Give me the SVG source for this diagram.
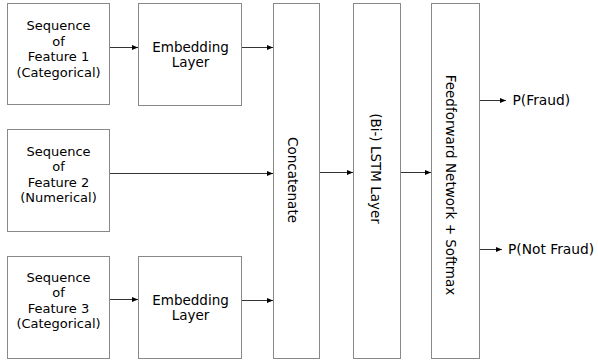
<svg xmlns="http://www.w3.org/2000/svg" width="598" height="360" viewBox="0 0 598 360">
<defs>
<marker id="arr" viewBox="0 0 6 5" refX="6" refY="2.5" markerWidth="6" markerHeight="5" markerUnits="userSpaceOnUse" orient="auto">
<path d="M0,0 L6,2.5 L0,5 z" fill="#000"/>
</marker>
<style>
.box{fill:#fff;stroke:#888;stroke-width:1}
.t{font-family:"DejaVu Sans",Verdana,sans-serif;font-size:13px;fill:#000;text-anchor:middle}
.e{font-family:"DejaVu Sans",Verdana,sans-serif;font-size:13.5px;fill:#000;text-anchor:middle}
.r{font-family:"DejaVu Sans",Verdana,sans-serif;font-size:13.5px;fill:#000;text-anchor:middle}
.tl{font-family:"DejaVu Sans",Verdana,sans-serif;font-size:13.8px;fill:#000}
.c{stroke:#333;stroke-width:1;fill:none;marker-end:url(#arr)}
</style>
</defs>
<rect width="598" height="360" fill="#fff"/>
<g id="seq1">
<rect class="box" x="7.5" y="3.5" width="102" height="101"/>
<text class="t" x="58.5" y="30">Sequence</text>
<text class="t" x="58.5" y="45.7">of</text>
<text class="t" x="58.5" y="61.4">Feature 1</text>
<text class="t" x="58.5" y="77">(Categorical)</text>
</g>
<g id="emb1">
<rect class="box" x="138.5" y="3.5" width="103" height="102"/>
<text class="e" x="190.5" y="51.7">Embedding</text>
<text class="e" x="190.5" y="67.3">Layer</text>
</g>
<g id="seq2">
<rect class="box" x="7.5" y="129.5" width="102" height="102"/>
<text class="t" x="58.5" y="155.5">Sequence</text>
<text class="t" x="58.5" y="171.1">of</text>
<text class="t" x="58.5" y="186.7">Feature 2</text>
<text class="t" x="58.5" y="202.3">(Numerical)</text>
</g>
<g id="seq3">
<rect class="box" x="7.5" y="256.5" width="102" height="102"/>
<text class="t" x="58.5" y="281.5">Sequence</text>
<text class="t" x="58.5" y="297.1">of</text>
<text class="t" x="58.5" y="312.7">Feature 3</text>
<text class="t" x="58.5" y="328.3">(Categorical)</text>
</g>
<g id="emb3">
<rect class="box" x="138.5" y="256.5" width="103" height="102"/>
<text class="e" x="190.5" y="304.5">Embedding</text>
<text class="e" x="190.5" y="320">Layer</text>
</g>
<g id="concat">
<rect class="box" x="273.5" y="3.5" width="46" height="355"/>
<text class="r" transform="translate(287.5,180) rotate(90)">Concatenate</text>
</g>
<g id="lstm">
<rect class="box" x="353.5" y="3.5" width="47" height="355"/>
<text class="r" transform="translate(371,168.5) rotate(90)">(Bi-) LSTM Layer</text>
</g>
<g id="ffn">
<rect class="box" x="431.5" y="3.5" width="48" height="355"/>
<text class="r" transform="translate(446,185) rotate(90)">Feedforward Network + Softmax</text>
</g>
<g id="out-fraud">
<text class="tl" x="512.5" y="105">P(Fraud)</text>
</g>
<g id="out-notfraud">
<text class="tl" x="508" y="253.5">P(Not Fraud)</text>
</g>
<g id="connectors">
<line class="c" x1="110" y1="47.5" x2="138" y2="47.5"/>
<line class="c" x1="242" y1="47.5" x2="273" y2="47.5"/>
<line class="c" x1="110" y1="173.5" x2="273" y2="173.5"/>
<line class="c" x1="110" y1="299.5" x2="138" y2="299.5"/>
<line class="c" x1="242" y1="300.5" x2="273" y2="300.5"/>
<line class="c" x1="320" y1="172.5" x2="353" y2="172.5"/>
<line class="c" x1="401" y1="172.5" x2="431" y2="172.5"/>
<line class="c" x1="480" y1="100.5" x2="506" y2="100.5"/>
<line class="c" x1="480" y1="249.5" x2="502" y2="249.5"/>
</g>
</svg>
